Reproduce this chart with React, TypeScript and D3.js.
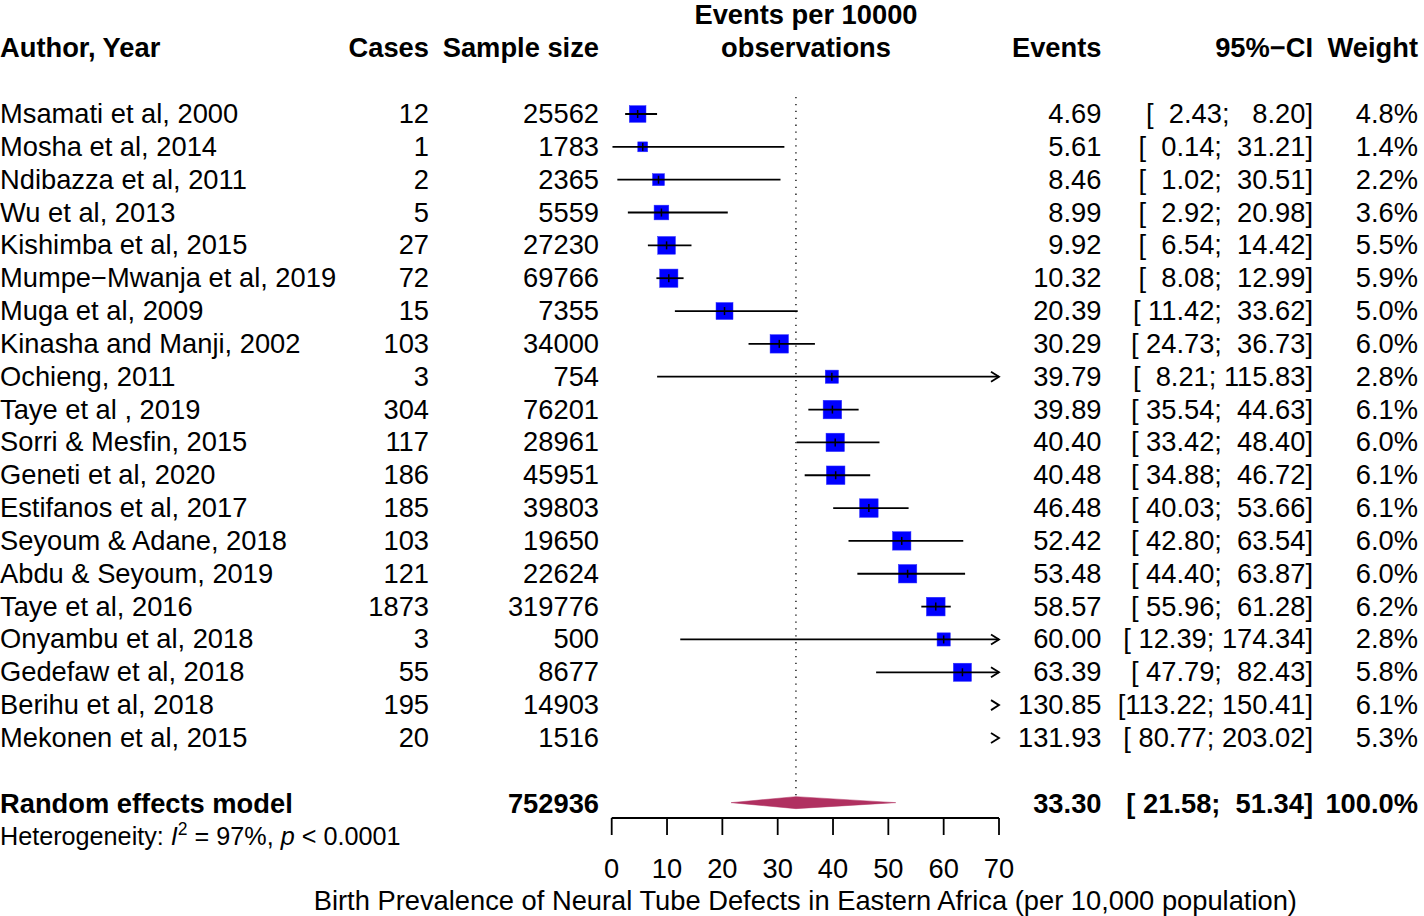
import React from "react";
import * as d3 from "d3";

const authors = [
  "Msamati et al, 2000", "Mosha et al, 2014", "Ndibazza et al, 2011", "Wu et al, 2013",
  "Kishimba et al, 2015", "Mumpe\u2212Mwanja et al, 2019", "Muga et al, 2009",
  "Kinasha and Manji, 2002", "Ochieng, 2011", "Taye et al , 2019", "Sorri & Mesfin, 2015",
  "Geneti et al, 2020", "Estifanos et al, 2017", "Seyoum & Adane, 2018", "Abdu & Seyoum, 2019",
  "Taye et al, 2016", "Onyambu et al, 2018", "Gedefaw et al, 2018", "Berihu et al, 2018",
  "Mekonen et al, 2015",
];
const cases = [12, 1, 2, 5, 27, 72, 15, 103, 3, 304, 117, 186, 185, 103, 121, 1873, 3, 55, 195, 20];
const sampleSizes = [25562, 1783, 2365, 5559, 27230, 69766, 7355, 34000, 754, 76201, 28961, 45951, 39803, 19650, 22624, 319776, 500, 8677, 14903, 1516];
const events = [4.69, 5.61, 8.46, 8.99, 9.92, 10.32, 20.39, 30.29, 39.79, 39.89, 40.40, 40.48, 46.48, 52.42, 53.48, 58.57, 60.00, 63.39, 130.85, 131.93];
const lowerCI = [2.43, 0.14, 1.02, 2.92, 6.54, 8.08, 11.42, 24.73, 8.21, 35.54, 33.42, 34.88, 40.03, 42.80, 44.40, 55.96, 12.39, 47.79, 113.22, 80.77];
const upperCI = [8.20, 31.21, 30.51, 20.98, 14.42, 12.99, 33.62, 36.73, 115.83, 44.63, 48.40, 46.72, 53.66, 63.54, 63.87, 61.28, 174.34, 82.43, 150.41, 203.02];
const weights = [4.8, 1.4, 2.2, 3.6, 5.5, 5.9, 5.0, 6.0, 2.8, 6.1, 6.0, 6.1, 6.1, 6.0, 6.0, 6.2, 2.8, 5.8, 6.1, 5.3];

const pooledLabel = "Random effects model";
const pooledTotal = 752936;
const pooledEst = 33.30;
const pooledLower = 21.58;
const pooledUpper = 51.34;
const pooledWeight = 100.0;
const hetI2 = "97%";
const hetP = "0.0001";

const xTicks = [0, 10, 20, 30, 40, 50, 60, 70];
const xTitle = "Birth Prevalence of Neural Tube Defects in Eastern Africa (per 10,000 population)";

const FONT = "'Liberation Sans', Arial, Helvetica, sans-serif";
const FS = 27.3;

const fmtCI = (lo: number, hi: number) =>
  "[" + lo.toFixed(2).padStart(6, " ") + "; " + hi.toFixed(2).padStart(6, " ") + "]";

export default function App() {
  const width = 1424;
  const height = 916;
  const x = d3.scaleLinear().domain([0, 70]).range([611.7, 999]);
  const y = d3.scaleLinear().domain([0, 1]).range([114, 114 + 32.84]);
  const n = authors.length;
  const pooledRow = n + 1;
  const hetRow = n + 2;
  const base = 9;

  const colCases = 429;
  const colSample = 599;
  const colEvents = 1101.5;
  const colCI = 1313;
  const colWeight = 1418;
  const colHeader = 806;

  const txt = (
    key: string,
    xx: number,
    yy: number,
    s: string,
    anchor: "start" | "middle" | "end",
    bold = false,
    fs = FS
  ) => (
    <text
      key={key}
      x={xx}
      y={yy}
      textAnchor={anchor}
      fontWeight={bold ? "bold" : "normal"}
      fontSize={fs}
      xmlSpace="preserve"
      style={{ whiteSpace: "pre" }}
    >
      {s}
    </text>
  );

  const xMax = 70;
  const arrow = (key: string, yy: number) => (
    <polyline
      key={key}
      points={`${x(xMax) - 8},${yy - 5} ${x(xMax)},${yy} ${x(xMax) - 8},${yy + 5}`}
      fill="none"
      stroke="black"
      strokeWidth={1.8}
    />
  );

  return (
    <svg
      width={width}
      height={height}
      style={{ position: "absolute", left: 0, top: 0, background: "white" }}
      fontFamily={FONT}
    >
      <rect x={0} y={0} width={width} height={height} fill="white" />
      {/* headers */}
      {txt("h-author", 0, y(-2) + base, "Author, Year", "start", true)}
      {txt("h-cases", colCases, y(-2) + base, "Cases", "end", true)}
      {txt("h-sample", colSample, y(-2) + base, "Sample size", "end", true)}
      {txt("h-ev1", colHeader, y(-3) + base, "Events per 10000", "middle", true)}
      {txt("h-ev2", colHeader, y(-2) + base, "observations", "middle", true)}
      {txt("h-events", colEvents, y(-2) + base, "Events", "end", true)}
      {txt("h-ci", colCI, y(-2) + base, "95%\u2212CI", "end", true)}
      {txt("h-weight", colWeight, y(-2) + base, "Weight", "end", true)}

      {/* reference line */}
      <line
        x1={x(pooledEst)}
        x2={x(pooledEst)}
        y1={y(0) - 17}
        y2={y(pooledRow) - 8}
        stroke="black"
        strokeWidth={1.3}
        strokeDasharray="1.3,5.6"
      />

      {/* study rows */}
      {authors.map((a, i) => {
        const yy = y(i);
        const est = events[i];
        const lo = lowerCI[i];
        const hi = upperCI[i];
        const sz = 2 + 6.7 * Math.sqrt(weights[i]);
        const inRange = est <= xMax;
        const lineEnd = Math.min(hi, xMax);
        return (
          <g key={"r" + i}>
            {txt("a" + i, 0, yy + base, a, "start")}
            {txt("c" + i, colCases, yy + base, String(cases[i]), "end")}
            {txt("s" + i, colSample, yy + base, String(sampleSizes[i]), "end")}
            {txt("e" + i, colEvents, yy + base, est.toFixed(2), "end")}
            {txt("ci" + i, colCI, yy + base, fmtCI(lo, hi), "end")}
            {txt("w" + i, colWeight, yy + base, weights[i].toFixed(1) + "%", "end")}
            {inRange && (
              <rect
                x={x(est) - sz / 2}
                y={yy - sz / 2}
                width={sz}
                height={sz}
                fill="#0000FF"
                stroke="#3030ff"
                strokeWidth={0.5}
              />
            )}
            {lo < xMax && (
              <line
                x1={x(Math.max(lo, 0))}
                x2={x(lineEnd)}
                y1={yy}
                y2={yy}
                stroke="black"
                strokeWidth={1.8}
              />
            )}
            {inRange && (
              <line x1={x(est)} x2={x(est)} y1={yy - 4} y2={yy + 4} stroke="black" strokeWidth={1.5} />
            )}
            {hi > xMax && arrow("ar" + i, yy)}
          </g>
        );
      })}

      {/* pooled */}
      {txt("p-label", 0, y(pooledRow) + base, pooledLabel, "start", true)}
      {txt("p-total", colSample, y(pooledRow) + base, String(pooledTotal), "end", true)}
      {txt("p-est", colEvents, y(pooledRow) + base, pooledEst.toFixed(2), "end", true)}
      {txt("p-ci", colCI, y(pooledRow) + base, fmtCI(pooledLower, pooledUpper), "end", true)}
      {txt("p-w", colWeight, y(pooledRow) + base, pooledWeight.toFixed(1) + "%", "end", true)}
      <polygon
        points={[
          [x(pooledLower), y(pooledRow) - 1],
          [x(pooledEst), y(pooledRow) - 7],
          [x(pooledUpper), y(pooledRow) - 1],
          [x(pooledEst), y(pooledRow) + 5],
        ]
          .map((p) => p.join(","))
          .join(" ")}
        fill="#B03060"
        stroke="#B03060"
        strokeWidth={0.5}
      />

      {/* heterogeneity */}
      <text x={0} y={y(hetRow) + 8.5} fontSize={25.2} xmlSpace="preserve" style={{ whiteSpace: "pre" }}>
        {"Heterogeneity: "}
        <tspan fontStyle="italic">I</tspan>
        <tspan dy={-10} fontSize={17.5}>2</tspan>
        <tspan dy={10}>{" = " + hetI2 + ", "}</tspan>
        <tspan fontStyle="italic">p</tspan>
        {" < " + hetP}
      </text>

      {/* axis */}
      <line x1={x(0)} x2={x(70)} y1={818} y2={818} stroke="black" strokeWidth={1.8} />
      {xTicks.map((t) => (
        <g key={"t" + t}>
          <line x1={x(t)} x2={x(t)} y1={818} y2={835} stroke="black" strokeWidth={1.8} />
          {txt("tl" + t, x(t), 869 + base, String(t), "middle")}
        </g>
      ))}
      {txt("xtitle", (x(0) + x(70)) / 2, 901 + base, xTitle, "middle")}
    </svg>
  );
}
